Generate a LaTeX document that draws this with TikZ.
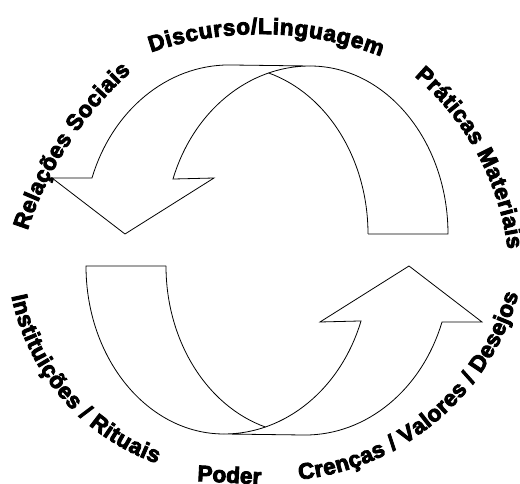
\documentclass[tikz,border=0pt]{standalone}
\usepackage{fontspec}
\setmainfont{Liberation Sans}[BoldFeatures={FakeBold=4}]
\usetikzlibrary{decorations.text}
\newcommand\arclbl{\fontsize{22.5}{27}\selectfont\bfseries}
\begin{document}
\begin{tikzpicture}[x=1pt,y=1pt,
  band/.style={draw=black, line width=0.8pt, line join=miter},
  arctext/.style={decorate, decoration={text along path, text align={fit to path}, text={|\arclbl|#1}}}]
\useasboundingbox (0,0) rectangle (520,484);
\foreach \r in {0,180}{
\begin{scope}[rotate around={\r:(267,234)}]
  % front band with arrow head
  \draw[band] (92,306) arc[start angle=160.9, end angle=90, x radius=145, y radius=168]
    -- (310,418) arc[start angle=90, end angle=160.9, x radius=145, y radius=168]
    -- (214,306) -- (125,250) -- (52,306) -- cycle;
  % back band (tail)
  \draw[band] (368,250) -- (448,250) arc[start angle=0, end angle=90, x radius=138, y radius=168];
  \draw[band] (368,250) arc[start angle=0, end angle=73.43, x radius=139, y radius=168];
\end{scope}
}
% labels along arcs
\path[arctext={Discurso/Linguagem}] ([shift={(109:336)}]260.5,114) arc[start angle=109, end angle=69, radius=336];
\path[arctext={Relações Sociais}] ([shift={(162:364)}]373.7,141) arc[start angle=162, end angle=131.8, radius=364];
\path[arctext={Práticas Materiais}] ([shift={(49.5:272.5)}]237.5,200.5) arc[start angle=49.5, end angle=7.2, radius=272.5];
\path[arctext={Instituições / Rituais}] ([shift={(191.5:225)}]232,232.7) arc[start angle=191.5, end angle=250.5, radius=225];
\path[arctext={Crenças / Valores / Desejos}] ([shift={(276:255)}]272.6,258) arc[start angle=276, end angle=344.5, radius=255];
\node[anchor=base west, inner sep=0pt, rotate=-3, font=\arclbl] (poder) at (197,3) {Poder};
\end{tikzpicture}
\end{document}
